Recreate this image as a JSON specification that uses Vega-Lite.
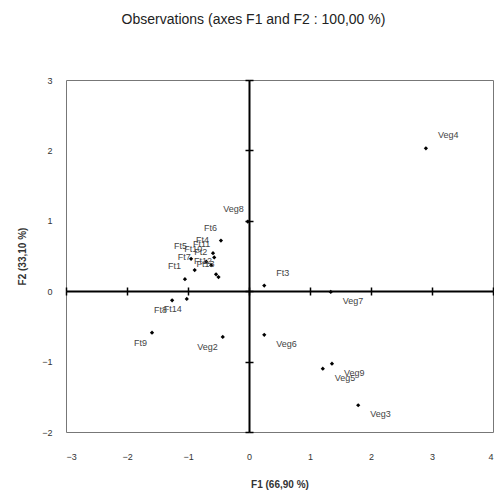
{
  "$schema": "https://vega.github.io/schema/vega-lite/v6.json",
  "width": 427,
  "height": 352,
  "autosize": "none",
  "padding": {"left": 66, "top": 80, "right": 1, "bottom": 69},
  "background": "white",
  "title": {
    "text": "Observations (axes F1 and F2 : 100,00 %)",
    "font": "Liberation Sans",
    "fontSize": 14,
    "fontWeight": "normal",
    "color": "#222",
    "anchor": "middle",
    "dx": -26,
    "offset": 49
  },
  "config": {
    "view": {"stroke": "#777", "strokeWidth": 1},
    "axis": {
      "labelFont": "Liberation Sans",
      "labelFontSize": 9,
      "labelColor": "#333",
      "titleFont": "Liberation Sans",
      "titleFontSize": 10,
      "titleFontWeight": "bold",
      "titleColor": "#333",
      "grid": false
    },
    "text": {"font": "Liberation Sans", "fontSize": 9, "color": "#444"}
  },
  "data": {
    "values": [
      {"name": "Ft1", "F1": -1.05, "F2": 0.17},
      {"name": "Ft2", "F1": -0.62, "F2": 0.37},
      {"name": "Ft3", "F1": 0.25, "F2": 0.08},
      {"name": "Ft4", "F1": -0.59, "F2": 0.54},
      {"name": "Ft5", "F1": -0.95, "F2": 0.46},
      {"name": "Ft6", "F1": -0.46, "F2": 0.72},
      {"name": "Ft7", "F1": -0.89, "F2": 0.30},
      {"name": "Ft8", "F1": -1.26, "F2": -0.13},
      {"name": "Ft9", "F1": -1.59, "F2": -0.59},
      {"name": "Ft10", "F1": -0.70, "F2": 0.42},
      {"name": "Ft11", "F1": -0.57, "F2": 0.48},
      {"name": "Ft12", "F1": -0.54, "F2": 0.24},
      {"name": "Ft13", "F1": -0.50, "F2": 0.20},
      {"name": "Ft14", "F1": -1.02, "F2": -0.11},
      {"name": "Veg2", "F1": -0.43, "F2": -0.65},
      {"name": "Veg3", "F1": 1.79, "F2": -1.62},
      {"name": "Veg4", "F1": 2.90, "F2": 2.03},
      {"name": "Veg5", "F1": 1.21, "F2": -1.10},
      {"name": "Veg6", "F1": 0.25, "F2": -0.62},
      {"name": "Veg7", "F1": 1.34, "F2": -0.01},
      {"name": "Veg8", "F1": -0.02, "F2": 0.99},
      {"name": "Veg9", "F1": 1.36, "F2": -1.03}
    ]
  },
  "resolve": {"axis": {"x": "independent", "y": "independent"}},
  "layer": [
    {
      "mark": {"type": "point", "shape": "diamond", "filled": true, "color": "black", "size": 18, "opacity": 1},
      "encoding": {
        "x": {
          "field": "F1", "type": "quantitative",
          "scale": {"domain": [-3, 4], "nice": false, "zero": false},
          "axis": {"orient": "bottom", "values": [-3, -2, -1, 0, 1, 2, 3, 4], "domain": false, "ticks": false, "labelPadding": 20, "title": "F1 (66,90 %)", "titlePadding": 18}
        },
        "y": {
          "field": "F2", "type": "quantitative",
          "scale": {"domain": [-2, 3], "nice": false, "zero": false},
          "axis": {"orient": "left", "values": [-2, -1, 0, 1, 2, 3], "domain": false, "ticks": false, "labelPadding": 14, "title": "F2 (33,10 %)", "titlePadding": 14}
        }
      }
    },
    {
      "mark": {"type": "rule", "opacity": 0},
      "encoding": {
        "x": {
          "datum": 0, "type": "quantitative",
          "axis": {"orient": "bottom", "offset": -141, "values": [-3, -2, -1, 0, 1, 2, 3, 4], "labels": false, "title": null, "domain": true, "domainColor": "black", "domainWidth": 2, "ticks": true, "tickColor": "black", "tickSize": 4, "tickWidth": 1.5}
        },
        "y": {
          "datum": 0, "type": "quantitative",
          "axis": {"orient": "left", "offset": -183, "values": [-2, -1, 0, 1, 2, 3], "labels": false, "title": null, "domain": true, "domainColor": "black", "domainWidth": 2, "ticks": true, "tickColor": "black", "tickSize": 4, "tickWidth": 1.5}
        }
      }
    },
    {
      "mark": {"type": "rule", "opacity": 0},
      "encoding": {
        "x": {
          "datum": 0, "type": "quantitative",
          "axis": {"orient": "bottom", "offset": -141, "values": [-3, -2, -1, 0, 1, 2, 3, 4], "labels": false, "title": null, "domain": false, "ticks": true, "tickColor": "black", "tickSize": -4, "tickWidth": 1.5}
        },
        "y": {
          "datum": 0, "type": "quantitative",
          "axis": {"orient": "left", "offset": -183, "values": [-2, -1, 0, 1, 2, 3], "labels": false, "title": null, "domain": false, "ticks": true, "tickColor": "black", "tickSize": -4, "tickWidth": 1.5}
        }
      }
    },
    {
      "transform": [{"filter": {"field": "name", "oneOf": ["Veg8", "Ft6", "Ft1", "Ft2", "Ft4", "Ft5", "Ft7", "Ft10", "Ft11", "Ft12", "Ft13"]}}],
      "mark": {"type": "text", "align": "right", "baseline": "bottom", "dx": -4, "dy": -8},
      "encoding": {"x": {"field": "F1", "type": "quantitative", "axis": null}, "y": {"field": "F2", "type": "quantitative", "axis": null}, "text": {"field": "name"}}
    },
    {
      "transform": [{"filter": {"field": "name", "oneOf": ["Veg4", "Ft3"]}}],
      "mark": {"type": "text", "align": "left", "baseline": "bottom", "dx": 12, "dy": -8},
      "encoding": {"x": {"field": "F1", "type": "quantitative", "axis": null}, "y": {"field": "F2", "type": "quantitative", "axis": null}, "text": {"field": "name"}}
    },
    {
      "transform": [{"filter": {"field": "name", "oneOf": ["Veg2", "Ft9", "Ft8", "Ft14"]}}],
      "mark": {"type": "text", "align": "right", "baseline": "top", "dx": -5, "dy": 6},
      "encoding": {"x": {"field": "F1", "type": "quantitative", "axis": null}, "y": {"field": "F2", "type": "quantitative", "axis": null}, "text": {"field": "name"}}
    },
    {
      "transform": [{"filter": {"field": "name", "oneOf": ["Veg3", "Veg5", "Veg6", "Veg7", "Veg9"]}}],
      "mark": {"type": "text", "align": "left", "baseline": "top", "dx": 12, "dy": 5},
      "encoding": {"x": {"field": "F1", "type": "quantitative", "axis": null}, "y": {"field": "F2", "type": "quantitative", "axis": null}, "text": {"field": "name"}}
    }
  ]
}
